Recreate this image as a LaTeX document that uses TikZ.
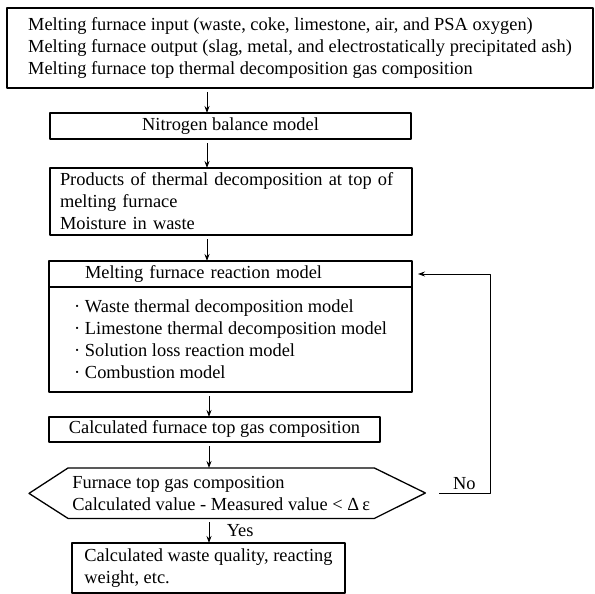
\documentclass[tikz,border=0pt]{standalone}
\usepackage{fontspec}
\setmainfont{Liberation Serif}
\usetikzlibrary{arrows.meta}
\newcommand{\dotitem}{\makebox[11pt][l]{\textperiodcentered}}
\begin{document}
\begin{tikzpicture}[x=1pt, y=1pt, line join=round, >={Stealth[length=7pt,width=5pt]}]
\tikzset{every node/.style={font=\fontsize{18.4}{22}\selectfont},
  box/.style={draw, line width=1.3pt, outer sep=0pt, anchor=north west, inner ysep=0pt},
  flow/.style={->, line width=0.9pt, shorten <=4pt}}
\useasboundingbox (0,0) rectangle (595,-594);
\node[box, align=left, minimum width=586pt, minimum height=80pt] (input) at (7,-8)
  {Melting furnace input (waste, coke, limestone, air, and PSA oxygen)\\
   Melting furnace output (slag, metal, and electrostatically precipitated ash)\\
   Melting furnace top thermal decomposition gas composition};
\node[box, minimum width=361pt, minimum height=26pt] (nitro) at (50,-113) {Nitrogen balance model};
\node[box, align=left, inner xsep=10pt, text width=342pt, minimum height=67pt] (prod) at (50,-168)
  {Products of thermal decomposition at top of\\melting furnace\\Moisture in waste};
\node[box, align=left, inner xsep=36pt, text width=291pt, minimum height=26pt] (head) at (49,-261)
  {Melting furnace reaction model};
\node[box, align=left, minimum width=363pt, minimum height=105pt] (body) at (head.south west)
  {\dotitem Waste thermal decomposition model\\
   \dotitem Limestone thermal decomposition model\\
   \dotitem Solution loss reaction model\\
   \dotitem Combustion model};
\node[box, minimum width=331pt, minimum height=25pt] (calc) at (49,-417) {Calculated furnace top gas composition};
\node[anchor=north west, align=left, inner sep=0pt, minimum width=306pt, minimum height=50pt] (check) at (68,-468)
  {Furnace top gas composition\\Calculated value - Measured value < Δ\,ε};
\draw[line width=1.3pt] (check.north west) -- (check.north east) -- ++(51,-25) coordinate (tip)
  -- (check.south east) -- (check.south west) -- ++(-39,25) -- cycle;
\node[box, align=left, minimum width=273pt, minimum height=50pt] (result) at (72,-543)
  {Calculated waste quality, reacting\\weight, etc.};
\coordinate (ax1) at (207,0);
\coordinate (ax2) at (209,0);
\foreach \a/\b/\x in {input/nitro/ax1, nitro/prod/ax1, prod/head/ax1, body/calc/ax2, calc/check/ax2}
  \draw[flow] (\a.south -| \x) -- (\b.north -| \x);
\draw[flow] (check.south -| ax2) -- node[right=14pt]{Yes} (result.north -| ax2);
\draw[flow, shorten <=14pt, shorten >=6pt] (tip) -- node[above, pos=0.6]{No} ++(65,0) |- (head.east);
\end{tikzpicture}
\end{document}
